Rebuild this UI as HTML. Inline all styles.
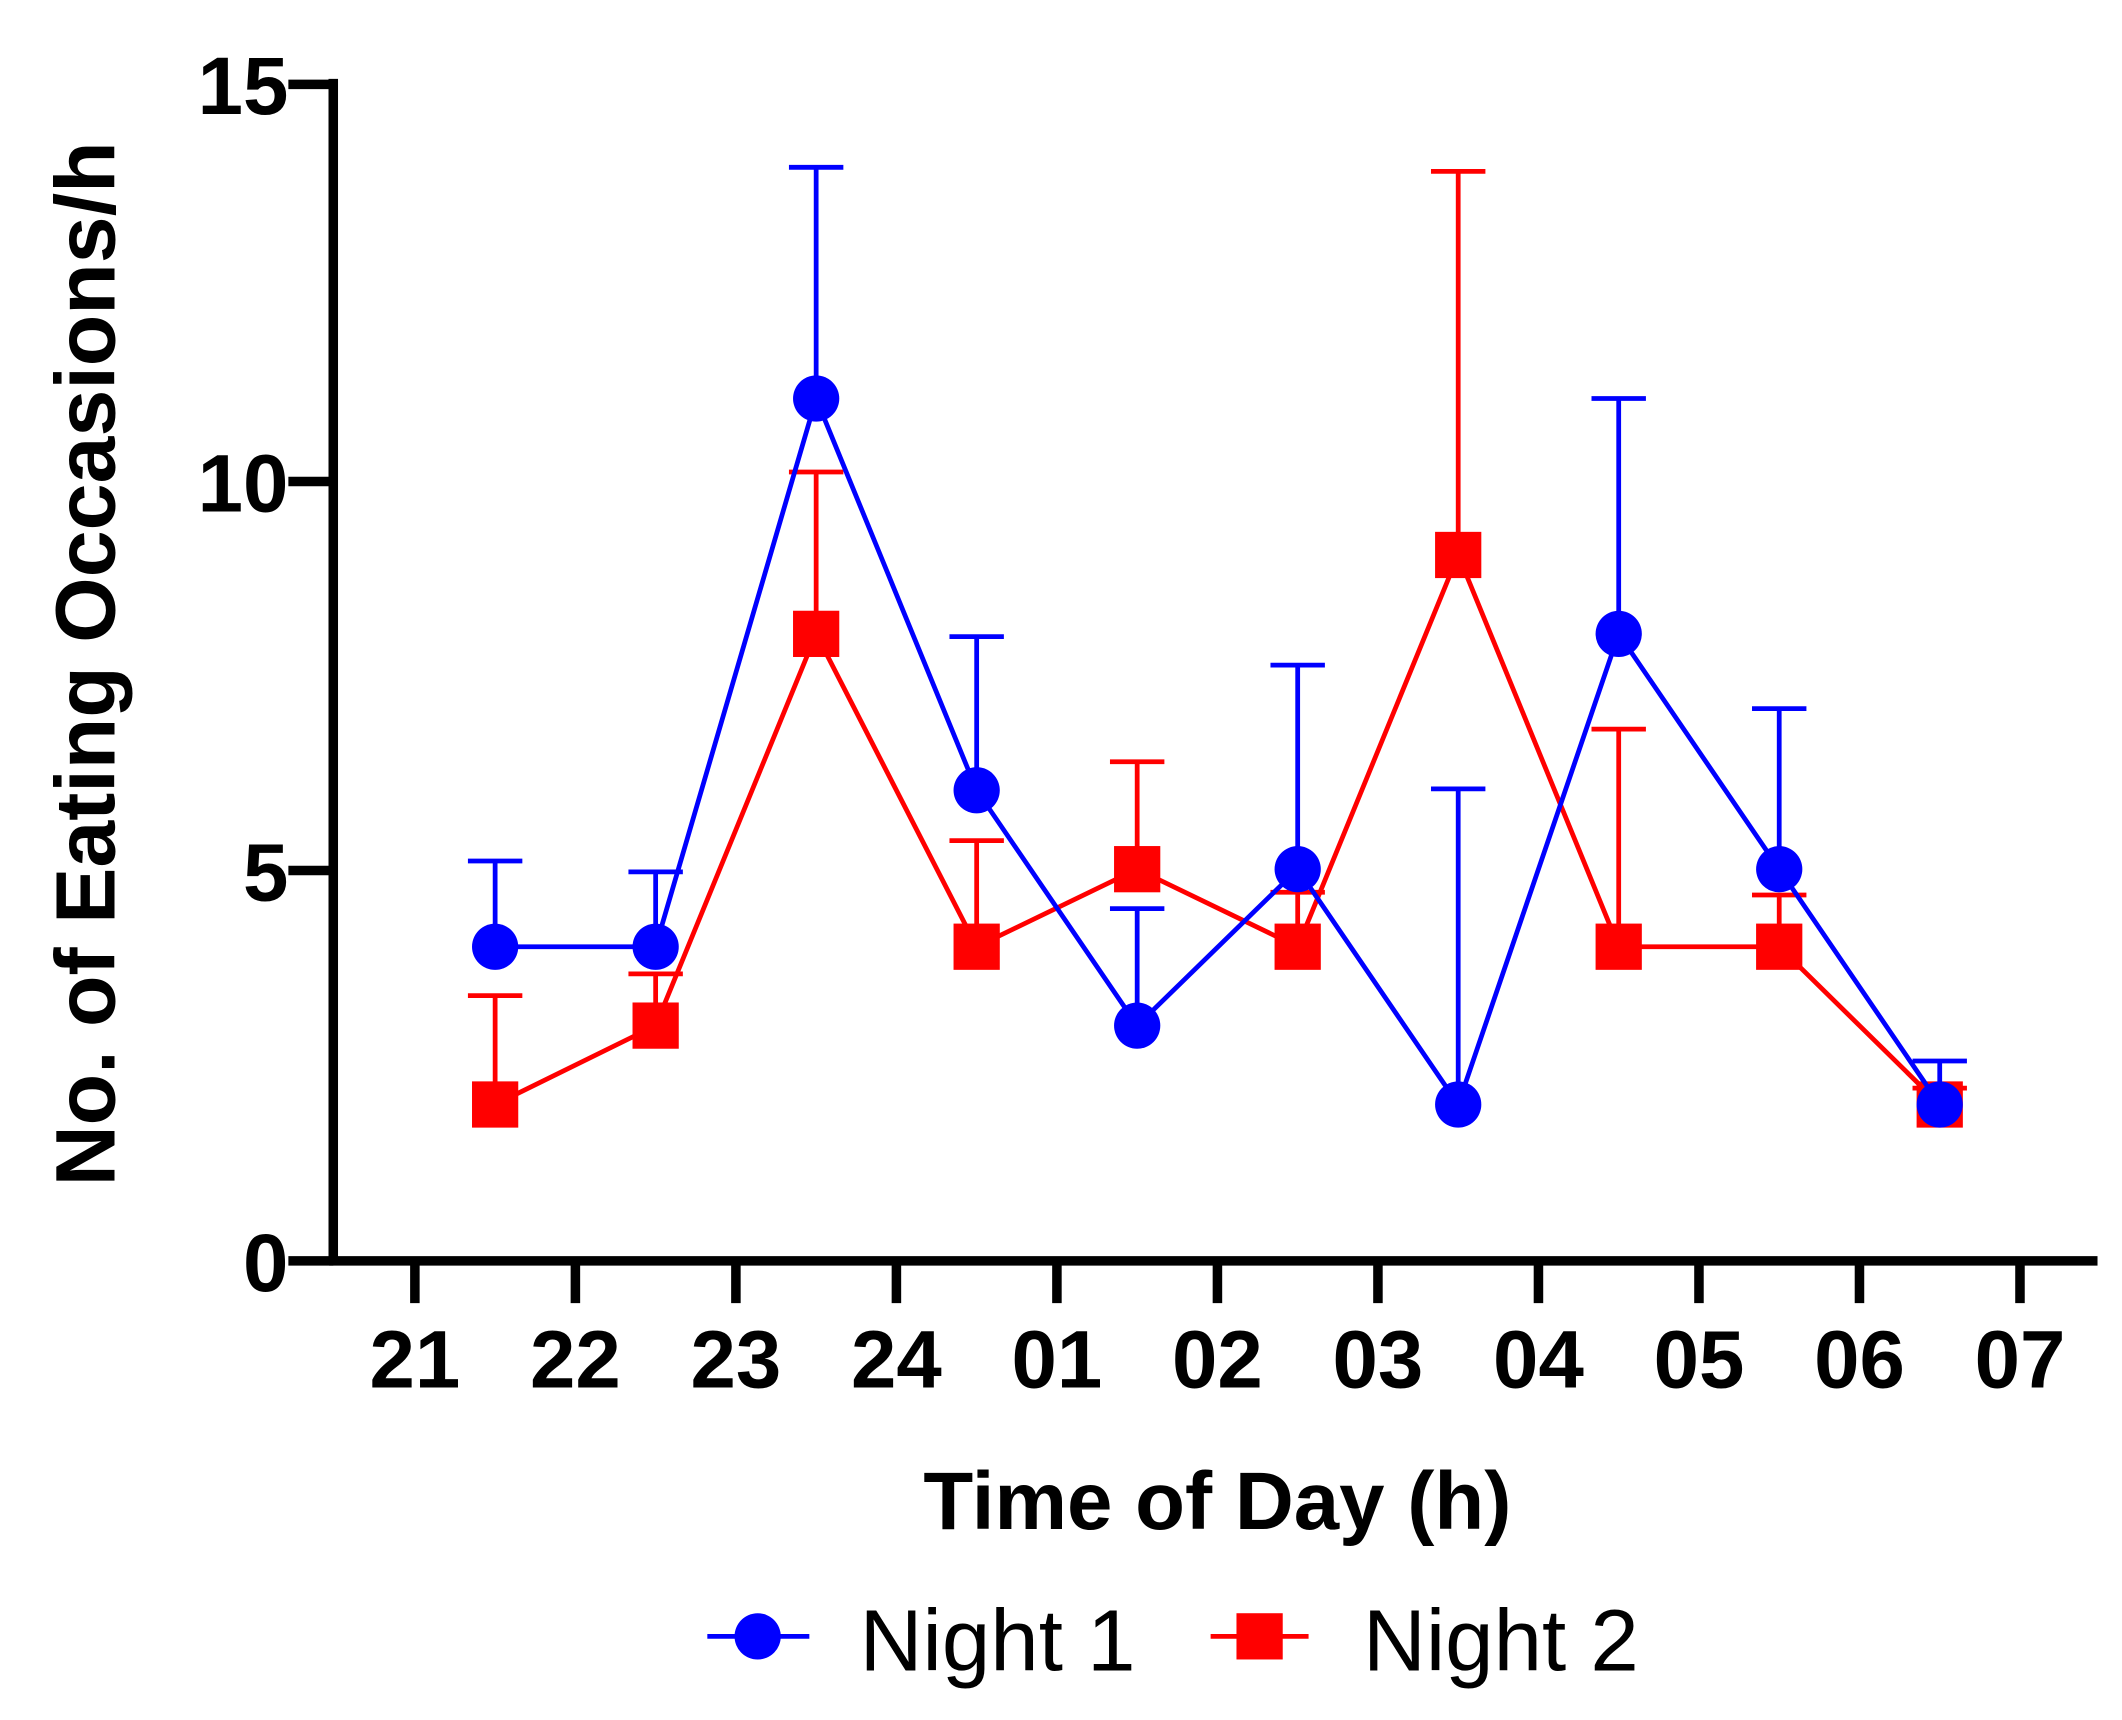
<!DOCTYPE html>
<html><head><meta charset="utf-8"><style>html,body{margin:0;padding:0;background:#fff}svg{display:block}</style></head>
<body>
<svg width="2122" height="1720" viewBox="0 0 1560 1264.5" preserveAspectRatio="none" xmlns="http://www.w3.org/2000/svg" font-family="Liberation Sans, Arial, sans-serif">
<rect width="1560" height="1264.5" fill="#fff"/>
<g stroke="#000" stroke-width="7" fill="none">
<line x1="245" y1="58" x2="245" y2="930"/>
<line x1="242" y1="927" x2="1542" y2="927"/>
<line x1="212" y1="62" x2="245" y2="62"/>
<line x1="212" y1="354" x2="245" y2="354"/>
<line x1="212" y1="640" x2="245" y2="640"/>
<line x1="212" y1="927" x2="245" y2="927"/>
<line x1="305" y1="927" x2="305" y2="958"/>
<line x1="423" y1="927" x2="423" y2="958"/>
<line x1="541" y1="927" x2="541" y2="958"/>
<line x1="659" y1="927" x2="659" y2="958"/>
<line x1="777" y1="927" x2="777" y2="958"/>
<line x1="895" y1="927" x2="895" y2="958"/>
<line x1="1013" y1="927" x2="1013" y2="958"/>
<line x1="1131" y1="927" x2="1131" y2="958"/>
<line x1="1249" y1="927" x2="1249" y2="958"/>
<line x1="1367" y1="927" x2="1367" y2="958"/>
<line x1="1485" y1="927" x2="1485" y2="958"/>
</g>
<g font-weight="bold" font-size="60" text-anchor="end" fill="#000">
<text x="212" y="84">15</text>
<text x="212" y="376">10</text>
<text x="212" y="662">5</text>
<text x="212" y="949">0</text>
</g>
<g font-weight="bold" font-size="60" text-anchor="middle" fill="#000">
<text x="305" y="1020">21</text><text x="423" y="1020">22</text><text x="541" y="1020">23</text>
<text x="659" y="1020">24</text><text x="777" y="1020">01</text><text x="895" y="1020">02</text>
<text x="1013" y="1020">03</text><text x="1131" y="1020">04</text><text x="1249" y="1020">05</text>
<text x="1367" y="1020">06</text><text x="1485" y="1020">07</text>
<text x="895" y="1124" font-size="60">Time of Day (h)</text>
<text transform="translate(84,488) rotate(-90)" font-size="62">No. of Eating Occasions/h</text>
</g>
<g stroke="#ff0000" stroke-width="3.5" fill="none">
<path d="M364 812V732M344 732H384M482 754V716M462 716H502M600 466V347M580 347H620M718 696V618M698 618H738M836 639V560M816 560H856M954 696V656M934 656H974M1072 408V126M1052 126H1092M1190 696V536M1170 536H1210M1308 696V658M1288 658H1328M1426 812V800M1406 800H1446"/>
<polyline points="364,812 482,754 600,466 718,696 836,639 954,696 1072,408 1190,696 1308,696 1426,812"/>
</g>
<g fill="#ff0000">
<rect x="347" y="795" width="34" height="34"/><rect x="465" y="737" width="34" height="34"/>
<rect x="583" y="449" width="34" height="34"/><rect x="701" y="679" width="34" height="34"/>
<rect x="819" y="622" width="34" height="34"/><rect x="937" y="679" width="34" height="34"/>
<rect x="1055" y="391" width="34" height="34"/><rect x="1173" y="679" width="34" height="34"/>
<rect x="1291" y="679" width="34" height="34"/><rect x="1409" y="795" width="34" height="34"/>
</g>
<g stroke="#0000ff" stroke-width="3.5" fill="none">
<path d="M364 696V633M344 633H384M482 696V641M462 641H502M600 293V123M580 123H620M718 581V468M698 468H738M836 754V668M816 668H856M954 639V489M934 489H974M1072 812V580M1052 580H1092M1190 466V293M1170 293H1210M1308 639V521M1288 521H1328M1426 812V780M1406 780H1446"/>
<polyline points="364,696 482,696 600,293 718,581 836,754 954,639 1072,812 1190,466 1308,639 1426,812"/>
</g>
<g fill="#0000ff">
<circle cx="364" cy="696" r="17"/><circle cx="482" cy="696" r="17"/><circle cx="600" cy="293" r="17"/>
<circle cx="718" cy="581" r="17"/><circle cx="836" cy="754" r="17"/><circle cx="954" cy="639" r="17"/>
<circle cx="1072" cy="812" r="17"/><circle cx="1190" cy="466" r="17"/><circle cx="1308" cy="639" r="17"/>
<circle cx="1426" cy="812" r="17"/>
</g>
<line x1="520" y1="1203" x2="595" y2="1203" stroke="#0000ff" stroke-width="3.5"/>
<circle cx="557" cy="1203" r="17" fill="#0000ff"/>
<text x="632" y="1228" font-size="64" fill="#000">Night 1</text>
<line x1="890" y1="1203" x2="962" y2="1203" stroke="#ff0000" stroke-width="3.5"/>
<rect x="909" y="1186" width="34" height="34" fill="#ff0000"/>
<text x="1002" y="1228" font-size="64" fill="#000">Night 2</text>
</svg>
</body></html>
